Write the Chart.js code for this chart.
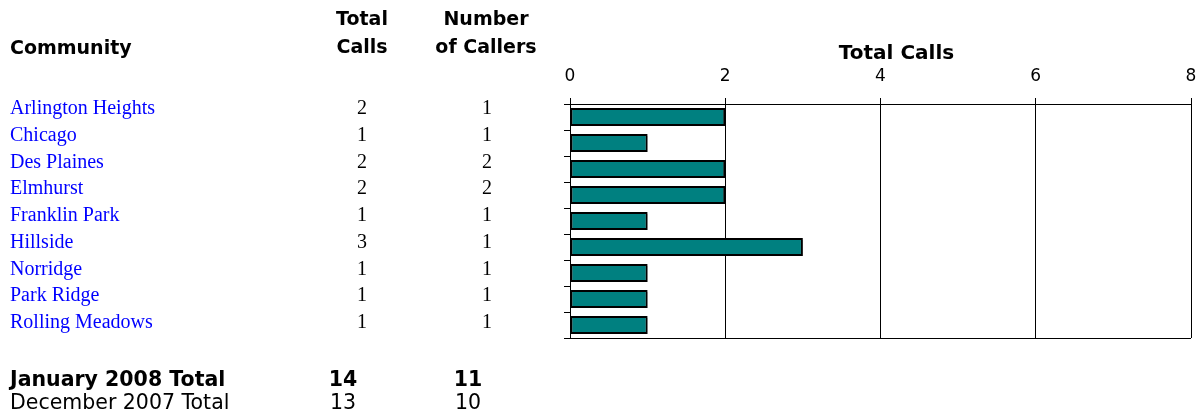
<!DOCTYPE html>
<html>
<head>
<meta charset="utf-8">
<script src="https://cdn.jsdelivr.net/npm/chart.js@4"></script>
<style>
  body { margin: 0; background: #fff; width: 1200px; height: 419px; overflow: hidden; position: relative; }
  #chartCanvas { position: absolute; left: 0; top: 0; }
  .txt { position: absolute; white-space: nowrap; line-height: 1; }
  .head { font-family: "DejaVu Sans", sans-serif; font-weight: bold; font-size: 19px; color: #000; }
  .row { font-family: "Liberation Serif", serif; font-size: 20px; }
  .name { color: #0000ff; }
  .num { color: #000; transform: translateX(-50%); }
  .total { font-family: "DejaVu Sans", sans-serif; font-size: 20.5px; color: #000; }
  .bold { font-weight: bold; }
  .center { transform: translateX(-50%); text-align: center; }
</style>
</head>
<body>
<canvas id="chartCanvas" width="1200" height="419"></canvas>
<div id="tabela"></div>
<script>
const communities = ['Arlington Heights', 'Chicago', 'Des Plaines', 'Elmhurst', 'Franklin Park', 'Hillside', 'Norridge', 'Park Ridge', 'Rolling Meadows'];
const totalCalls = [2, 1, 2, 2, 1, 3, 1, 1, 1];
const numberOfCallers = [1, 1, 2, 2, 1, 1, 1, 1, 1];
const totalRowLabels = ['January 2008 Total', 'December 2007 Total'];
const totalRowCalls = [14, 13];
const totalRowCallers = [11, 10];
const axisTicks = [0, 2, 4, 6, 8];

const tabela = document.getElementById('tabela');

function addText(text, cls, x, y) {
  const el = document.createElement('div');
  el.className = 'txt ' + cls;
  el.textContent = text;
  el.style.left = x + 'px';
  el.style.top = y + 'px';
  tabela.appendChild(el);
  return el;
}

function montarTabela() {
  // cabecalhos
  addText('Community', 'head', 10, 38);
  addText('Total', 'head center', 362, 9);
  addText('Calls', 'head center', 362, 37);
  addText('Number', 'head center', 486, 9);
  addText('of Callers', 'head center', 486, 37);

  communities.forEach((nome, i) => {
    const y = 97 + i * 26.75;
    addText(nome, 'row name', 10, y);
    addText(String(totalCalls[i]), 'row num', 362, y);
    addText(String(numberOfCallers[i]), 'row num', 487, y);
  });

  totalRowLabels.forEach((label, i) => {
    const y = 369 + i * 23;
    const cls = i === 0 ? 'total bold' : 'total';
    addText(label, cls, 10, y);
    addText(String(totalRowCalls[i]), cls + ' center', 343, y);
    addText(String(totalRowCallers[i]), cls + ' center', 468, y);
  });
}

const sombraBarras = {
  id: 'sombraBarras',
  beforeDatasetsDraw(chart) {
    const ctx = chart.ctx;
    ctx.save();
    ctx.shadowColor = 'rgba(0, 0, 0, 0.35)';
    ctx.shadowOffsetX = 2;
    ctx.shadowOffsetY = 2;
    ctx.shadowBlur = 1;
  },
  afterDatasetsDraw(chart) {
    chart.ctx.restore();
  }
};

// titulo do eixo um pouco deslocado para a direita, como no original
const tituloEixo = {
  id: 'tituloEixo',
  afterDraw(chart) {
    const x = chart.scales.x;
    const ctx = chart.ctx;
    ctx.save();
    ctx.font = 'bold 20px "DejaVu Sans"';
    ctx.fillStyle = '#000';
    ctx.textAlign = 'center';
    ctx.textBaseline = 'middle';
    ctx.fillText('Total Calls', (x.left + x.right) / 2 + 16, x.top + 10);
    ctx.restore();
  }
};

function criarGrafico() {
  const ctx = document.getElementById('chartCanvas').getContext('2d');
  new Chart(ctx, {
    type: 'bar',
    data: {
      labels: communities,
      datasets: [{
        label: 'Total Calls',
        data: totalCalls,
        backgroundColor: '#008080',
        borderColor: '#000',
        borderWidth: 2,
        borderSkipped: false,
        barPercentage: 0.7,
        categoryPercentage: 1
      }]
    },
    options: {
      indexAxis: 'y',
      responsive: false,
      animation: false,
      devicePixelRatio: 1,
      layout: { padding: { left: 564, right: 9, top: 44, bottom: 81 } },
      plugins: {
        legend: { display: false },
        tooltip: { enabled: false }
      },
      scales: {
        x: {
          position: 'top',
          min: axisTicks[0],
          max: axisTicks[axisTicks.length - 1],
          afterBuildTicks: axis => { axis.ticks = axisTicks.map(v => ({ value: v })); },
          // altura fixa do eixo e sem folga extra a direita
          afterFit: axis => {
            axis.height = 60;
            axis.paddingRight = 0;
            axis.paddingLeft = 0;
          },
          grid: { color: '#000', tickColor: '#000', tickLength: 6, lineWidth: 1 },
          border: { color: '#000', width: 1 },
          ticks: {
            padding: 11,
            color: '#000',
            font: { family: 'DejaVu Sans', size: 17, lineHeight: 1.2 }
          },
          title: { display: false }
        },
        y: {
          ticks: { display: false },
          grid: {
            offset: true,
            tickLength: 6,
            tickColor: '#000',
            color: c => c.type === 'tick' ? 'rgba(0,0,0,0)' : '#000'
          },
          border: { color: '#000', width: 1 }
        }
      }
    },
    plugins: [sombraBarras, tituloEixo]
  });
}

montarTabela();
criarGrafico();
</script>
</body>
</html>
